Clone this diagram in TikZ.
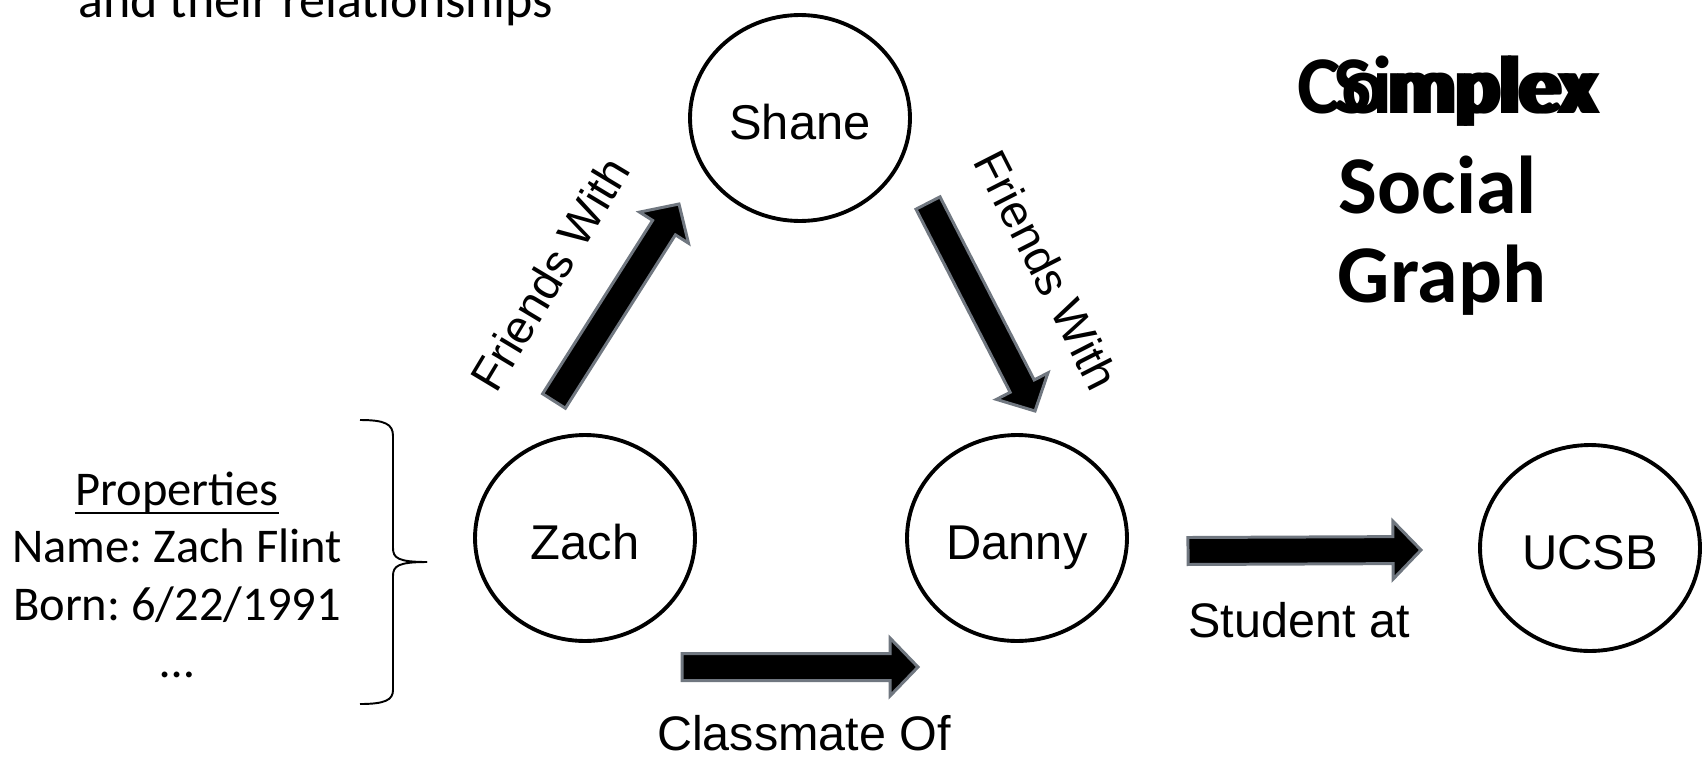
\documentclass[tikz,border=0pt]{standalone}
\usepackage{fontspec}
\setmainfont{Carlito}
\newfontfamily\arial{Liberation Sans}
\usepackage{tikz}
\usetikzlibrary{calc}
\usetikzlibrary{shapes}
\frenchspacing
\definecolor{arrowgray}{RGB}{112,119,128}
\newcommand{\entnode}[4]{\node[entity] (#1) at ( #2 , #3 ) {#4};}
\newcommand{\blkarrow}[2]{%
  \coordinate (hb) at ($(#2)!0.56cm!(#1)$);
  \draw[blk] ($(#1)!0.27cm!90:(#2)$) -- ($(hb)!0.27cm!90:(#2)$) -- ($(hb)!0.58cm!90:(#2)$) -- (#2)
    -- ($(hb)!0.58cm!-90:(#2)$) -- ($(hb)!0.27cm!-90:(#2)$) -- ($(#1)!0.27cm!-90:(#2)$) -- cycle;}

\begin{document}
\begin{tikzpicture}[x=0.02cm,y=-0.02cm,
  entity/.style={shape=ellipse,draw=black,line width=2.2pt,inner sep=0pt,minimum width=4.4cm,minimum height=4.12cm,
    font=\arial\fontsize{27.8}{32}\selectfont,text height=24.5pt,text depth=0pt},
  rel/.style={font=\arial\fontsize{27.6}{32}\selectfont,inner sep=0pt},
  blk/.style={fill=black,draw=arrowgray,line width=1.7pt,line join=miter},
  prop/.style={font=\fontsize{27.6}{32}\selectfont,inner sep=0pt,anchor=base},
  title/.style={font=\bfseries\fontsize{46.7}{52}\selectfont,inner sep=0pt,anchor=base}]
        \useasboundingbox (0,0) rectangle (1704,758);
        \clip (0,0) rectangle (1704,758);
        %caption and title
        \node[font=\fontsize{29.6}{34}\selectfont,inner sep=0pt,anchor=base west] (cap) at (78,17) {and their relationships};
        \node[title] (cplx) at (1446,113) {Complex};
        \node[title,anchor=base west] (smpx) at (1333,113) {Simplex};
        \node[title] (soc) at (1438,213) {Social};
        \node[title] (grph) at (1442,302) {Graph};
        %nodes
        \entnode{shane}{800}{118}{Shane}
        \entnode{zach}{585}{538}{Zach}
        \entnode{danny}{1017}{538}{Danny}
        \entnode{ucsb}{1590}{548}{UCSB}
        %properties of zach
        \node[prop] (phead) at (177,505) {Properties};
        \draw[line width=1.3pt] ([yshift=-0.16cm]phead.base west) -- ([yshift=-0.16cm]phead.base east);
        \node[prop] (pname) at (177,562) {Name: Zach Flint};
        \node[prop] (pborn) at (177,620) {Born: 6/22/1991};
        \node[prop] (pmore) at (177,677) {…};
        \draw[line width=1.1pt] (360,420) .. controls (385,420) and (393,424) .. (393,436) -- (393,548)
          .. controls (393,558) and (398,562) .. (427,562);
        \draw[line width=1.1pt] (427,562) .. controls (398,562) and (393,566) .. (393,576) -- (393,690)
          .. controls (393,700) and (385,704) .. (360,704);
        %edges
        \coordinate (fwaTail) at (554,401); \coordinate (fwaTip) at (679,204);
        \coordinate (fwbTail) at (928,203); \coordinate (fwbTip) at (1035,411);
        \coordinate (cmTail) at (682,667); \coordinate (cmTip) at (918,667);
        \coordinate (stTail) at (1188,551); \coordinate (stTip) at (1421,550);
        \blkarrow{fwaTail}{fwaTip}
        \blkarrow{fwbTail}{fwbTip}
        \blkarrow{cmTail}{cmTip}
        \blkarrow{stTail}{stTip}
        %edge labels
        \node[rel,font=\arial\fontsize{26.5}{30}\selectfont,rotate=59] (fwa) at (550,274) {Friends With};
        \node[rel,font=\arial\fontsize{26.5}{30}\selectfont,rotate=-63] (fwb) at (1047,270) {Friends With};
        \node[rel,anchor=base] (cm) at (804,750) {Classmate Of};
        \node[rel,anchor=base] (st) at (1299,637) {Student at};
\end{tikzpicture}
\end{document}
